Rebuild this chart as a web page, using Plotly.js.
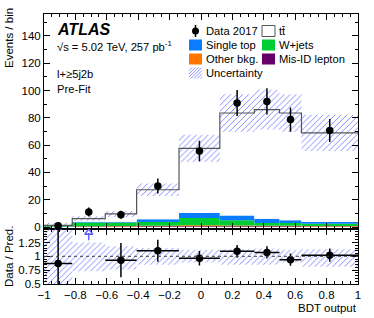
<!DOCTYPE html>
<html><head><meta charset="utf-8">
<script src="https://cdn.plot.ly/plotly-3.0.1.min.js"></script>
<style>html,body{margin:0;padding:0;background:#fff;}#chart{width:374px;height:318px;}</style>
</head><body><div id="chart"></div>
<script>
// ---- data ----
const binEdges   = [-1, -0.82, -0.61, -0.41, -0.14, 0.12, 0.34, 0.5, 0.64, 1];
const dataVals   = [1, 11, 9, 30, 55.6, 90.8, 92, 78.7, 70.7];
const dataErrUp  = [2.3, 3.3, 3.0, 5.5, 7.5, 9.5, 9.6, 8.9, 8.4];
const dataErrDn  = [0.8, 3.3, 3.0, 5.5, 7.5, 9.5, 9.6, 8.9, 8.4];
const ttbar      = [0.15, 2.4, 6.0, 21.6, 47.4, 75.0, 79.9, 78.6, 65.4];
const singleTop  = [0.2, 0.5, 0.3, 2.1, 3.6, 3.6, 3.2, 2.0, 1.2];
const wjets      = [0.6, 2.7, 2.6, 2.7, 5.4, 3.8, 1.9, 2.0, 1.6];
const otherBkg   = [0.1, 0.3, 0.3, 0.4, 0.6, 0.5, 0.5, 0.4, 0.4];
const misID      = [0.1, 0.3, 0.4, 0.5, 0.6, 0.6, 0.5, 0.5, 0.4];
const predUnc    = [2.0, 1.6, 2.2, 4.5, 10, 13.7, 14.5, 13.7, 13.3];
const ratioVals  = [0.87, null, 0.93, 1.10, 0.965, 1.09, 1.07, 0.94, 1.02];
const ratioErrUp = [2.0, 0, 0.31, 0.2, 0.13, 0.115, 0.11, 0.11, 0.12];
const ratioErrDn = [0.87, 0, 0.31, 0.2, 0.13, 0.115, 0.11, 0.11, 0.12];
const ratioBandUp = [0.6, 0.25, 0.18, 0.15, 0.12, 0.13, 0.14, 0.12, 0.13];
const ratioBandDn = [0.6, 0.27, 0.24, 0.15, 0.11, 0.15, 0.15, 0.11, 0.19];
const overflowBin = 1; // ratio point above the displayed range
const xTickVals = [-1, -0.8, -0.6, -0.4, -0.2, 0, 0.2, 0.4, 0.6, 0.8, 1];
const xTickText = ['\u22121', '\u22120.8', '\u22120.6', '\u22120.4', '\u22120.2', '0', '0.2', '0.4', '0.6', '0.8', '1'];
const yTickVals = [0, 20, 40, 60, 80, 100, 120, 140];
const rTickVals = [0.5, 0.75, 1, 1.25];
const rTickText = ['0.5', '0.75', '1', '1.25'];

// ---- derived ----
const n = dataVals.length;
const centers = [], widths = [], halfW = [];
for (let i = 0; i < n; i++) {
  centers.push((binEdges[i] + binEdges[i+1]) / 2);
  widths.push(binEdges[i+1] - binEdges[i]);
  halfW.push((binEdges[i+1] - binEdges[i]) / 2);
}
const layers = [
  {name: 'Mis-ID lepton', v: misID,     c: '#660066'},
  {name: 'Other bkg.',    v: otherBkg,  c: '#ff7700'},
  {name: 'W+jets',        v: wjets,     c: '#00cc33'},
  {name: 'Single top',    v: singleTop, c: '#0a7cff'},
  {name: 'tt',            v: ttbar,     c: '#ffffff'}
];
const cum = new Array(n).fill(0);
const traces = [];
layers.forEach(L => {
  traces.push({type: 'bar', x: centers, width: widths, base: cum.slice(), y: L.v,
    marker: {color: L.c, line: {width: 0}}, xaxis: 'x', yaxis: 'y', showlegend: false, hoverinfo: 'skip'});
  for (let i = 0; i < n; i++) cum[i] += L.v[i];
});
const total = cum.slice();
const HATCH = '#7474ff';
const pattern = {shape: '/', fgcolor: HATCH, bgcolor: 'rgba(0,0,0,0)', size: 4.2, solidity: 0.2};
traces.push({type: 'bar', x: centers, width: widths,
  base: total.map((t, i) => t - predUnc[i]), y: predUnc.map(u => 2 * u),
  marker: {color: 'rgba(0,0,0,0)', line: {width: 0}, pattern: pattern},
  xaxis: 'x', yaxis: 'y', showlegend: false, hoverinfo: 'skip'});
traces.push({type: 'scatter', mode: 'lines', x: binEdges, y: total.concat([total[n-1]]),
  line: {shape: 'hv', color: '#555555', width: 1.2}, xaxis: 'x', yaxis: 'y', showlegend: false, hoverinfo: 'skip'});
traces.push({type: 'scatter', mode: 'markers', x: centers, y: dataVals,
  marker: {color: 'black', size: 7.5},
  error_y: {type: 'data', symmetric: false, array: dataErrUp, arrayminus: dataErrDn, color: 'black', thickness: 1.5, width: 0},
  cliponaxis: false, xaxis: 'x', yaxis: 'y', showlegend: false, hoverinfo: 'skip'});

// ratio panel
traces.push({type: 'bar', x: centers, width: widths,
  base: ratioBandDn.map(d => 1 - d), y: ratioBandUp.map((u, i) => u + ratioBandDn[i]),
  marker: {color: 'rgba(0,0,0,0)', line: {width: 0}, pattern: pattern},
  xaxis: 'x2', yaxis: 'y2', showlegend: false, hoverinfo: 'skip'});
traces.push({type: 'scatter', mode: 'markers', x: centers, y: ratioVals,
  marker: {color: 'black', size: 7.5},
  error_x: {type: 'data', array: halfW, color: 'black', thickness: 1.5, width: 0},
  error_y: {type: 'data', symmetric: false, array: ratioErrUp, arrayminus: ratioErrDn, color: 'black', thickness: 1.5, width: 0},
  xaxis: 'x2', yaxis: 'y2', showlegend: false, hoverinfo: 'skip'});
// overflow arrow
traces.push({type: 'scatter', mode: 'lines', x: [centers[overflowBin], centers[overflowBin]], y: [1.29, 1.42],
  line: {color: '#5555ff', width: 1.3}, xaxis: 'x2', yaxis: 'y2', cliponaxis: false, showlegend: false, hoverinfo: 'skip'});
traces.push({type: 'scatter', mode: 'markers', x: [centers[overflowBin]], y: [1.43],
  marker: {symbol: 'triangle-up-open', size: 7, color: '#5555ff', line: {width: 1.3, color: '#5555ff'}},
  xaxis: 'x2', yaxis: 'y2', cliponaxis: false, showlegend: false, hoverinfo: 'skip'});

// ---- layout helpers (pixel -> paper) ----
const W = 374, H = 318, ML = 44, MR = 16, MT = 14, MB = 34;
const PW = W - ML - MR, PH = H - MT - MB;
const px = x => (x - ML) / PW;
const py = y => (H - MB - y) / PH;
const FONT = 'Liberation Sans, Arial, sans-serif';

const shapes = [
  {type: 'line', xref: 'x2', yref: 'y2', x0: -1, x1: 1, y0: 1, y1: 1, line: {color: '#444', width: 1, dash: 'dot'}, layer: 'above'}
];
const annotations = [];
function txt(t, x, y, size, opts) {
  annotations.push(Object.assign({text: t, xref: 'paper', yref: 'paper', x: px(x), y: py(y),
    xanchor: 'left', yanchor: 'middle', showarrow: false, font: {family: FONT, size: size, color: 'black'}}, opts || {}));
}
txt('<b><i>ATLAS</i></b>', 55, 30, 16);
txt('\u221As = 5.02 TeV, 257 pb<sup>-1</sup>', 55, 46, 11.2);
txt('l+\u22655j2b', 55, 74, 11.2);
txt('Pre-Fit', 55, 89, 11.2);
txt('Events / bin', 9, 38, 11.5, {xanchor: 'center', textangle: -90});
txt('Data / Pred.', 9, 257, 11.5, {xanchor: 'center', textangle: -90});
txt('BDT output', 359, 308, 11.5, {xanchor: 'right'});

// legend
const rows = [31, 45, 59, 73];
const c1 = 189, c2 = 262, bw = 13, bh = 11;
function box(x, y, fill, lineCol) {
  shapes.push({type: 'rect', xref: 'paper', yref: 'paper', x0: px(x), x1: px(x + bw), y0: py(y + bh / 2), y1: py(y - bh / 2),
    fillcolor: fill, line: {color: lineCol || fill, width: lineCol ? 1 : 0}});
}
// data marker
shapes.push({type: 'line', xref: 'paper', yref: 'paper', x0: px(c1 + 6.5), x1: px(c1 + 6.5), y0: py(rows[0] - 6), y1: py(rows[0] + 6), line: {color: 'black', width: 1.5}});
shapes.push({type: 'circle', xref: 'paper', yref: 'paper', x0: px(c1 + 3), x1: px(c1 + 10), y0: py(rows[0] + 3.5), y1: py(rows[0] - 3.5), fillcolor: 'black', line: {color: 'black', width: 0}});
txt('Data 2017', c1 + 15, rows[0], 11.2);
box(c2, rows[0], '#ffffff', '#555555');
txt('t\u0074\u0304', c2 + 15, rows[0], 11.2);
box(c1, rows[1], '#0a7cff'); txt('Single top', c1 + 15, rows[1], 11.2);
box(c2, rows[1], '#00cc33'); txt('W+jets', c2 + 15, rows[1], 11.2);
box(c1, rows[2], '#ff7700'); txt('Other bkg.', c1 + 15, rows[2], 11.2);
box(c2, rows[2], '#660066'); txt('Mis-ID lepton', c2 + 15, rows[2], 11.2);
// hatch legend box
(function () {
  const y0 = rows[3] - bh / 2, y1 = rows[3] + bh / 2;
  let path = '';
  for (let k = -bh; k < bw; k += 3.2) {
    let xa = c1 + k, ya = y1, xb = c1 + k + bh, yb = y0;
    if (xa < c1) { ya = y1 - (c1 - xa); xa = c1; }
    if (xb > c1 + bw) { yb = y0 + (xb - (c1 + bw)); xb = c1 + bw; }
    if (xb <= xa) continue;
    path += 'M' + px(xa) + ',' + py(ya) + 'L' + px(xb) + ',' + py(yb) + ' ';
  }
  shapes.push({type: 'path', xref: 'paper', yref: 'paper', path: path, line: {color: HATCH, width: 0.8}});
})();
txt('Uncertainty', c1 + 15, rows[3], 11.2);

const axCommon = {showline: true, linecolor: 'black', linewidth: 1, mirror: 'allticks', ticks: 'inside',
  ticklen: 6, tickcolor: 'black', showgrid: false, zeroline: false, tickfont: {family: FONT, size: 11.5, color: 'black'}};
const layout = {
  width: W, height: H, margin: {l: ML, r: MR, t: MT, b: MB},
  paper_bgcolor: 'white', plot_bgcolor: 'white', barmode: 'overlay', showlegend: false,
  font: {family: FONT, size: 11, color: 'black'},
  xaxis: Object.assign({}, axCommon, {range: [-1, 1], tickvals: xTickVals, showticklabels: false, anchor: 'y',
    minor: {ticks: 'inside', ticklen: 3, dtick: 0.05, tick0: -1, tickcolor: 'black'}}),
  yaxis: Object.assign({}, axCommon, {range: [-1.2, 156], tickvals: yTickVals, domain: [0.205, 1], anchor: 'x',
    minor: {ticks: 'inside', ticklen: 3, dtick: 10, tick0: 0, tickcolor: 'black'}}),
  xaxis2: Object.assign({}, axCommon, {range: [-1, 1], tickvals: xTickVals, ticktext: xTickText, anchor: 'y2', matches: 'x',
    minor: {ticks: 'inside', ticklen: 3, dtick: 0.05, tick0: -1, tickcolor: 'black'}}),
  yaxis2: Object.assign({}, axCommon, {range: [0.5, 1.5], tickvals: rTickVals, ticktext: rTickText, domain: [0, 0.205], anchor: 'x2',
    minor: {ticks: 'inside', ticklen: 3, dtick: 0.05, tick0: 0.5, tickcolor: 'black'}}),
  shapes: shapes, annotations: annotations
};
Plotly.newPlot('chart', traces, layout, {staticPlot: true, displayModeBar: false});
</script></body></html>
